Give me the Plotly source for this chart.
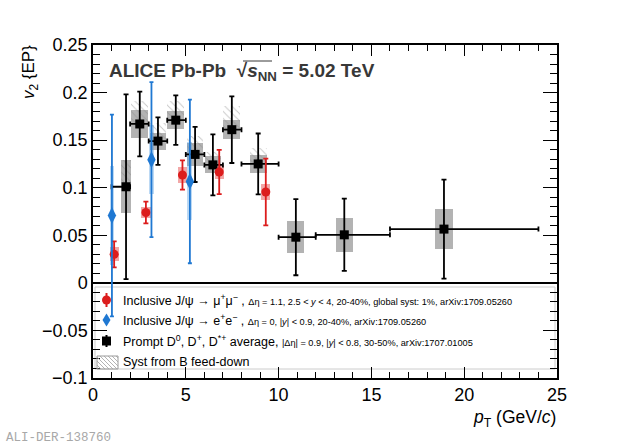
import plotly.graph_objects as go

# ---------------- data ----------------
# Prompt D0, D+, D*+ average (30-50%)
d_pt = [1.78, 2.52, 3.50, 4.46, 5.50, 6.46, 7.48, 8.90, 10.93, 13.54, 18.91]
d_pt_lo = [1, 2, 3, 4, 5, 6, 7, 8, 10, 12, 16]
d_pt_hi = [2, 3, 4, 5, 6, 7, 8, 10, 12, 16, 24]
d_v2 = [0.101, 0.167, 0.149, 0.171, 0.135, 0.124, 0.161, 0.125, 0.048, 0.0505, 0.0565]
d_stat = [0.097, 0.034, 0.025, 0.026, 0.029, 0.032, 0.035, 0.032, 0.040, 0.038, 0.052]
d_syst = [0.028, 0.015, 0.009, 0.0095, 0.0125, 0.009, 0.010, 0.0095, 0.017, 0.018, 0.021]
d_feeddown = [0.028, 0.024, 0.019, 0.020, 0.019, 0.014, 0.025, 0.017, 0.0, 0.0, 0.0]

# Inclusive J/psi -> mu+mu- (20-40%)
mu_pt = [1.14, 2.85, 4.82, 6.80, 9.31]
mu_v2 = [0.030, 0.074, 0.1134, 0.1165, 0.0955]
mu_stat = [0.0137, 0.0114, 0.0154, 0.0233, 0.035]
mu_syst = [0.0074, 0.006, 0.0088, 0.0075, 0.008]

# Inclusive J/psi -> e+e- (20-40%)
ee_pt = [1.02, 3.15, 5.22]
ee_v2 = [0.0708, 0.1295, 0.1066]
ee_stat = [0.106, 0.0815, 0.086]
ee_syst = [0.052, 0.036, 0.041]

# ---------------- styles ----------------
d_box_half = [0.25] + [0.45] * 7 + [0.46] * 3
mu_box_half = 0.25
ee_box_half = 0.13

RED = "#dc1d1d"
BLUE = "#1f78d2"
FONT = "Liberation Sans"

fig = go.Figure()

# systematic boxes
fig.add_trace(go.Bar(
    x=d_pt, y=[2 * s for s in d_syst], base=[v - s for v, s in zip(d_v2, d_syst)],
    width=[2 * h for h in d_box_half],
    marker=dict(color="rgba(150,150,150,0.72)", line=dict(width=0)),
    hoverinfo="skip"))
fig.add_trace(go.Bar(
    x=mu_pt, y=[2 * s for s in mu_syst], base=[v - s for v, s in zip(mu_v2, mu_syst)],
    width=[2 * mu_box_half] * len(mu_pt),
    marker=dict(color="rgba(232,95,95,0.55)", line=dict(width=0)),
    hoverinfo="skip"))
fig.add_trace(go.Bar(
    x=ee_pt, y=[2 * s for s in ee_syst], base=[v - s for v, s in zip(ee_v2, ee_syst)],
    width=[2 * ee_box_half] * len(ee_pt),
    marker=dict(color="rgba(80,155,225,0.38)", line=dict(width=0)),
    hoverinfo="skip"))

# B feed-down (hatched)
fd_idx = [i for i, f in enumerate(d_feeddown) if f > 0]
fig.add_trace(go.Bar(
    x=[d_pt[i] for i in fd_idx], y=[d_feeddown[i] for i in fd_idx],
    base=[d_v2[i] for i in fd_idx], width=[2 * d_box_half[i] for i in fd_idx],
    marker=dict(color="rgba(0,0,0,0)", line=dict(width=0),
                pattern=dict(shape="\\", fgcolor="#8c8c8c", bgcolor="rgba(0,0,0,0)",
                             size=5, solidity=0.18)),
    hoverinfo="skip"))

# D mesons
fig.add_trace(go.Scatter(
    x=d_pt, y=d_v2, mode="markers",
    marker=dict(symbol="square", size=9, color="black"),
    error_y=dict(type="data", array=d_stat, color="black", thickness=1.8, width=2.5),
    error_x=dict(type="data", array=[h - p for h, p in zip(d_pt_hi, d_pt)],
                 arrayminus=[p - l for p, l in zip(d_pt, d_pt_lo)],
                 color="black", thickness=1.8, width=2.5),
    hoverinfo="skip"))
# J/psi mu mu
fig.add_trace(go.Scatter(
    x=mu_pt, y=mu_v2, mode="markers",
    marker=dict(symbol="circle", size=9, color=RED),
    error_y=dict(type="data", array=mu_stat, color=RED, thickness=1.8, width=2.5),
    hoverinfo="skip"))
# J/psi e e
fig.add_trace(go.Scatter(
    x=ee_pt, y=ee_v2, mode="markers",
    marker=dict(symbol="diamond-tall", size=12, color=BLUE),
    error_y=dict(type="data", array=ee_stat, color=BLUE, thickness=1.8, width=2),
    hoverinfo="skip"))

# ---------------- layout ----------------
L, R, T, B = 93, 63, 45, 68
W, H = 620, 446
PW, PH = W - L - R, H - T - B


def px(xp):
    return (xp - L) / PW


def py(yp):
    return (H - B - yp) / PH


annotations = []
shapes = []

# Title
annotations.append(dict(
    text="<b>ALICE Pb-Pb  √<i>s</i><sub>NN</sub> = 5.02 TeV</b>",
    xref="paper", yref="paper", x=px(107), y=py(72), xanchor="left", yanchor="middle",
    showarrow=False, font=dict(family=FONT, size=19, color="#383838")))

# axis titles
annotations.append(dict(
    text="<i>v</i><sub>2</sub> {EP}", xref="paper", yref="paper",
    x=px(30), y=py(43), xanchor="center", yanchor="top", textangle=-90,
    showarrow=False, font=dict(family=FONT, size=17, color="black")))
annotations.append(dict(
    text="<i>p</i><sub>T</sub> (GeV/<i>c</i>)", xref="paper", yref="paper",
    x=px(558), y=py(418), xanchor="right", yanchor="middle",
    showarrow=False, font=dict(family=FONT, size=17.5, color="black")))
annotations.append(dict(
    text="ALI-DER-138760", xref="paper", yref="paper",
    x=px(4), y=py(438), xanchor="left", yanchor="middle",
    showarrow=False, font=dict(family="Liberation Mono", size=12.5, color="#a8a8a8")))

# Legend
SMALL = "<span style='font-size:9.2px'>"
leg_rows = [
    ("Inclusive J/ψ → μ<sup>+</sup>μ<sup>−</sup> , " + SMALL +
     "Δη = 1.1, 2.5 &lt; <i>y</i> &lt; 4, 20-40%, global syst: 1%, arXiv:1709.05260</span>", 300),
    ("Inclusive J/ψ → e<sup>+</sup>e<sup>−</sup> , " + SMALL +
     "Δη = 0, |<i>y</i>| &lt; 0.9, 20-40%, arXiv:1709.05260</span>", 320),
    ("Prompt D<sup>0</sup>, D<sup>+</sup>, D<sup>*+</sup> average, " + SMALL +
     "|Δη| = 0.9, |<i>y</i>| &lt; 0.8, 30-50%, arXiv:1707.01005</span>", 341),
    ("Syst from B feed-down", 362),
]
for txt, yy in leg_rows:
    annotations.append(dict(
        text=txt, xref="paper", yref="paper", x=px(121), y=py(yy),
        xanchor="left", yanchor="middle", showarrow=False,
        font=dict(family=FONT, size=12.5, color="black")))

# legend frame
shapes.append(dict(type="rect", xref="paper", yref="paper",
                   x0=px(95), x1=px(555), y0=py(369), y1=py(287),
                   line=dict(color="#cccccc", width=1), layer="below"))

mx = px(106.5)
# red circle symbol with bar
shapes.append(dict(type="line", xref="paper", yref="paper", x0=mx, x1=mx,
                   y0=py(293), y1=py(307), line=dict(color=RED, width=2)))
shapes.append(dict(type="circle", xref="paper", yref="paper", xsizemode="pixel",
                   ysizemode="pixel", xanchor=mx, yanchor=py(300),
                   x0=-4.5, x1=4.5, y0=-4.5, y1=4.5,
                   fillcolor=RED, line=dict(width=0)))
# blue diamond
shapes.append(dict(type="path", xref="paper", yref="paper", xsizemode="pixel",
                   ysizemode="pixel", xanchor=mx, yanchor=py(320),
                   path="M0,6.5 L4,0 L0,-6.5 L-4,0 Z", fillcolor=BLUE, line=dict(width=0)))
# black square with bar
shapes.append(dict(type="line", xref="paper", yref="paper", x0=mx, x1=mx,
                   y0=py(335), y1=py(347), line=dict(color="black", width=2)))
shapes.append(dict(type="rect", xref="paper", yref="paper", xsizemode="pixel",
                   ysizemode="pixel", xanchor=mx, yanchor=py(341),
                   x0=-4.5, x1=4.5, y0=-4.5, y1=4.5,
                   fillcolor="black", line=dict(width=0)))
# hatched box
hx0, hx1, hy0, hy1 = 97, 118, 356, 369
shapes.append(dict(type="rect", xref="paper", yref="paper",
                   x0=px(hx0), x1=px(hx1), y0=py(hy1), y1=py(hy0),
                   line=dict(color="#9a9a9a", width=1)))
step = 4
s = hx0 - (hy1 - hy0)
while s < hx1:
    xa, ya = s, hy0
    xb, yb = s + (hy1 - hy0), hy1
    if xa < hx0:
        ya = hy0 + (hx0 - xa)
        xa = hx0
    if xb > hx1:
        yb = hy1 - (xb - hx1)
        xb = hx1
    if xb > xa:
        shapes.append(dict(type="line", xref="paper", yref="paper",
                           x0=px(xa), x1=px(xb), y0=py(ya), y1=py(yb),
                           line=dict(color="#a0a0a0", width=0.8)))
    s += step

# overline of the square root in the title
shapes.append(dict(type="line", xref="paper", yref="paper",
                   x0=px(243), x1=px(272), y0=py(61), y1=py(61),
                   line=dict(color="#383838", width=1)))

axis_common = dict(
    ticks="inside", mirror="allticks", showline=True, linecolor="black", linewidth=1.5,
    tickcolor="black", tickwidth=1.3, showgrid=False,
    tickfont=dict(family=FONT, size=18, color="black"),
)

fig.update_layout(
    width=W, height=H,
    margin=dict(l=L, r=R, t=T, b=B, pad=0),
    paper_bgcolor="white", plot_bgcolor="white",
    showlegend=False, barmode="overlay", bargap=0,
    font=dict(family=FONT, size=18, color="black"),
    annotations=annotations, shapes=shapes,
    xaxis=dict(range=[0, 25], tick0=0, dtick=5, ticklen=11, zeroline=False,
               minor=dict(dtick=1, ticklen=6, tickwidth=1.2, ticks="inside",
                          tickcolor="black", showgrid=False),
               **axis_common),
    yaxis=dict(range=[-0.1, 0.25], tick0=0, dtick=0.05, ticklen=14,
               zeroline=True, zerolinecolor="black", zerolinewidth=2,
               minor=dict(dtick=0.01, ticklen=7, tickwidth=1.2, ticks="inside",
                          tickcolor="black", showgrid=False),
               **axis_common),
)

fig.write_html("out.html", config={"displayModeBar": False},
               post_script="document.body.style.margin='0px';document.body.style.padding='0px';")
